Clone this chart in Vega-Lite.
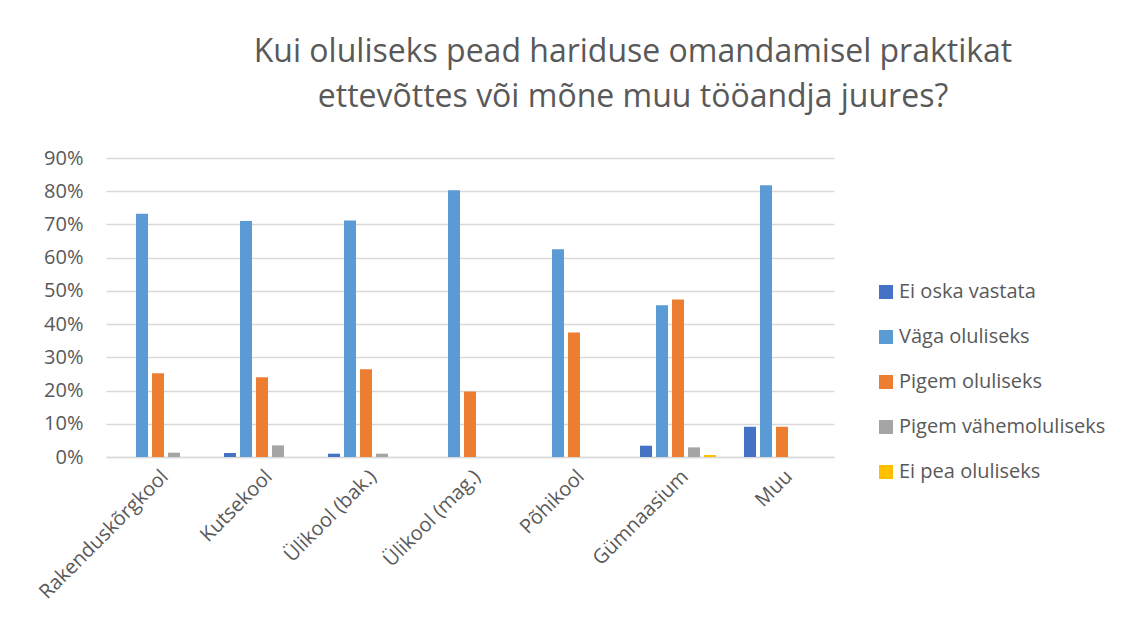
{
  "$schema": "https://vega.github.io/schema/vega-lite/v6.json",
  "width": 728,
  "height": 299,
  "autosize": {"type": "none"},
  "padding": {"left": 106, "top": 158, "right": 287, "bottom": 171},
  "background": "white",
  "title": {
    "text": ["Kui oluliseks pead hariduse omandamisel praktikat", "ettevõttes või mõne muu tööandja juures?"],
    "font": "Open Sans",
    "fontSize": 32,
    "fontWeight": "normal",
    "color": "#595959",
    "anchor": "middle",
    "frame": "group",
    "dx": 163,
    "offset": 34,
    "lineHeight": 45
  },
  "data": {
    "values": [
      {"cat": "Rakenduskõrgkool", "series": "Ei oska vastata", "value": 0},
      {"cat": "Rakenduskõrgkool", "series": "Väga oluliseks", "value": 0.732},
      {"cat": "Rakenduskõrgkool", "series": "Pigem oluliseks", "value": 0.252},
      {"cat": "Rakenduskõrgkool", "series": "Pigem vähemoluliseks", "value": 0.013},
      {"cat": "Rakenduskõrgkool", "series": "Ei pea oluliseks", "value": 0},
      {"cat": "Kutsekool", "series": "Ei oska vastata", "value": 0.012},
      {"cat": "Kutsekool", "series": "Väga oluliseks", "value": 0.71},
      {"cat": "Kutsekool", "series": "Pigem oluliseks", "value": 0.24},
      {"cat": "Kutsekool", "series": "Pigem vähemoluliseks", "value": 0.035},
      {"cat": "Kutsekool", "series": "Ei pea oluliseks", "value": 0},
      {"cat": "Ülikool (bak.)", "series": "Ei oska vastata", "value": 0.01},
      {"cat": "Ülikool (bak.)", "series": "Väga oluliseks", "value": 0.712},
      {"cat": "Ülikool (bak.)", "series": "Pigem oluliseks", "value": 0.264},
      {"cat": "Ülikool (bak.)", "series": "Pigem vähemoluliseks", "value": 0.01},
      {"cat": "Ülikool (bak.)", "series": "Ei pea oluliseks", "value": 0},
      {"cat": "Ülikool (mag.)", "series": "Ei oska vastata", "value": 0},
      {"cat": "Ülikool (mag.)", "series": "Väga oluliseks", "value": 0.803},
      {"cat": "Ülikool (mag.)", "series": "Pigem oluliseks", "value": 0.197},
      {"cat": "Ülikool (mag.)", "series": "Pigem vähemoluliseks", "value": 0},
      {"cat": "Ülikool (mag.)", "series": "Ei pea oluliseks", "value": 0},
      {"cat": "Põhikool", "series": "Ei oska vastata", "value": 0},
      {"cat": "Põhikool", "series": "Väga oluliseks", "value": 0.625},
      {"cat": "Põhikool", "series": "Pigem oluliseks", "value": 0.375},
      {"cat": "Põhikool", "series": "Pigem vähemoluliseks", "value": 0},
      {"cat": "Põhikool", "series": "Ei pea oluliseks", "value": 0},
      {"cat": "Gümnaasium", "series": "Ei oska vastata", "value": 0.034},
      {"cat": "Gümnaasium", "series": "Väga oluliseks", "value": 0.457},
      {"cat": "Gümnaasium", "series": "Pigem oluliseks", "value": 0.474},
      {"cat": "Gümnaasium", "series": "Pigem vähemoluliseks", "value": 0.029},
      {"cat": "Gümnaasium", "series": "Ei pea oluliseks", "value": 0.006},
      {"cat": "Muu", "series": "Ei oska vastata", "value": 0.091},
      {"cat": "Muu", "series": "Väga oluliseks", "value": 0.818},
      {"cat": "Muu", "series": "Pigem oluliseks", "value": 0.091},
      {"cat": "Muu", "series": "Pigem vähemoluliseks", "value": 0},
      {"cat": "Muu", "series": "Ei pea oluliseks", "value": 0}
    ]
  },
  "mark": {"type": "bar"},
  "encoding": {
    "x": {
      "field": "cat",
      "type": "nominal",
      "sort": null,
      "scale": {"paddingInner": 0.2308, "paddingOuter": 0.1154},
      "axis": {
        "title": null,
        "labelAngle": -45,
        "labelAlign": "right",
        "labelBaseline": "top",
        "labelFont": "Open Sans",
        "labelFontSize": 20,
        "labelColor": "#595959",
        "labelPadding": 9,
        "labelLimit": 400,
        "ticks": false,
        "domainColor": "#d9d9d9",
        "domainWidth": 1.5
      }
    },
    "xOffset": {
      "field": "series",
      "type": "nominal",
      "sort": ["Ei oska vastata", "Väga oluliseks", "Pigem oluliseks", "Pigem vähemoluliseks", "Ei pea oluliseks"],
      "scale": {"paddingInner": 0.25, "paddingOuter": 0.125}
    },
    "y": {
      "field": "value",
      "type": "quantitative",
      "scale": {"domain": [0, 0.9], "nice": false},
      "axis": {
        "title": null,
        "format": ".0%",
        "values": [0, 0.1, 0.2, 0.3, 0.4, 0.5, 0.6, 0.7, 0.8, 0.9],
        "domain": false,
        "ticks": false,
        "gridColor": "#d9d9d9",
        "gridWidth": 1.3,
        "labelFont": "Open Sans",
        "labelFontSize": 20,
        "labelColor": "#595959",
        "labelPadding": 23
      }
    },
    "color": {
      "field": "series",
      "type": "nominal",
      "sort": ["Ei oska vastata", "Väga oluliseks", "Pigem oluliseks", "Pigem vähemoluliseks", "Ei pea oluliseks"],
      "scale": {
        "domain": ["Ei oska vastata", "Väga oluliseks", "Pigem oluliseks", "Pigem vähemoluliseks", "Ei pea oluliseks"],
        "range": ["#4472C4", "#5B9BD5", "#ED7D31", "#A5A5A5", "#FFC000"]
      },
      "legend": {
        "title": null,
        "orient": "none",
        "legendX": 770,
        "legendY": 124,
        "symbolType": "square",
        "symbolSize": 196,
        "symbolStrokeWidth": 0,
        "labelFont": "Open Sans",
        "labelFontSize": 20,
        "labelColor": "#595959",
        "labelOffset": 3,
        "labelLimit": 400,
        "rowPadding": 25
      }
    }
  },
  "config": {"view": {"stroke": null}}
}
